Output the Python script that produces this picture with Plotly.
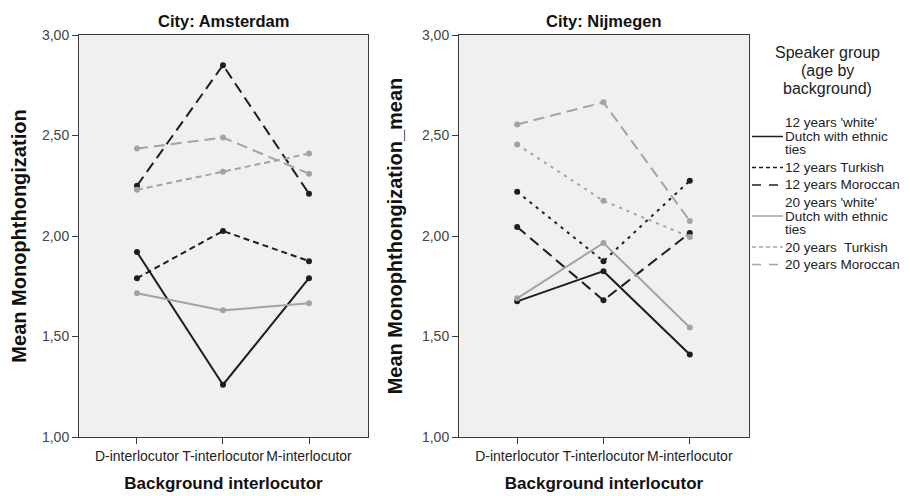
import plotly.graph_objects as go

categories = ["D-interlocutor", "T-interlocutor", "M-interlocutor"]
groups = [
    "12 years 'white'<br>Dutch with ethnic<br>ties",
    "12 years Turkish",
    "12 years Moroccan",
    "20 years 'white'<br>Dutch with ethnic<br>ties",
    "20 years  Turkish",
    "20 years Moroccan",
]
amsterdam = [
    [1.92, 1.26, 1.79],
    [1.79, 2.025, 1.875],
    [2.25, 2.85, 2.21],
    [1.715, 1.63, 1.665],
    [2.23, 2.32, 2.41],
    [2.435, 2.49, 2.31],
]
nijmegen = [
    [1.675, 1.825, 1.41],
    [2.22, 1.875, 2.275],
    [2.045, 1.68, 2.015],
    [1.69, 1.965, 1.545],
    [2.455, 2.175, 1.995],
    [2.555, 2.665, 2.075],
]
y_ticks = [1.0, 1.5, 2.0, 2.5, 3.0]
legend_title = ["Speaker group", "(age by", "background)"]

OFF = 8  # page body margin offset
W, H = 910 - OFF, 496 - OFF


def px(x):
    return (x - OFF) / W


def py(y):
    return 1 - (y - OFF) / H


BLACK = "#1e1e1e"
GREY = "#a3a3a3"
colors = [BLACK, BLACK, BLACK, GREY, GREY, GREY]
dash_left = ["solid", "6px,4px", "11px,6px", "solid", "6px,4px", "11px,6px"]
dash_right = ["solid", "3px,5px", "11px,6px", "solid", "3px,5px", "11px,6px"]
dash_legend = ["solid", "4px,3px", "9px,8px", "solid", "4px,3px", "9px,8px"]

x_idx = list(range(len(categories)))

fig = go.Figure()
for i, g in enumerate(groups):
    fig.add_trace(go.Scatter(
        x=x_idx, y=amsterdam[i], name=g.replace("<br>", " "), mode="lines+markers",
        line=dict(color=colors[i], width=2, dash=dash_left[i]),
        marker=dict(color=colors[i], size=6),
        xaxis="x", yaxis="y", showlegend=False))
for i, g in enumerate(groups):
    fig.add_trace(go.Scatter(
        x=x_idx, y=nijmegen[i], name=g.replace("<br>", " "), mode="lines+markers",
        line=dict(color=colors[i], width=2, dash=dash_right[i]),
        marker=dict(color=colors[i], size=6),
        xaxis="x2", yaxis="y2", showlegend=False))

FONT = "Liberation Sans, Arial, sans-serif"
xcommon = dict(
    tickmode="array", tickvals=x_idx, ticktext=categories, tickangle=0,
    range=[-0.674, 2.686], showgrid=False, zeroline=False, automargin=False,
    showline=True, linecolor="#3a3a3a", linewidth=1, mirror=True,
    ticks="outside", ticklen=6, tickcolor="#3a3a3a",
    tickfont=dict(size=14, color="#222", family=FONT),
    title=dict(text="<b>Background interlocutor</b>", font=dict(size=17, color="#111", family=FONT), standoff=14),
)
ycommon = dict(
    range=[1.0, 3.0], tickmode="array", tickvals=y_ticks, tickformat=".2f",
    showgrid=False, zeroline=False, automargin=False,
    showline=True, linecolor="#3a3a3a", linewidth=1, mirror=True,
    ticks="outside", ticklen=6, tickcolor="#3a3a3a",
    tickfont=dict(size=14, color="#444", family=FONT),
)

annotations = [
    dict(text="<b>City: Amsterdam</b>", x=px((79+368)/2), y=py(21), xref="paper", yref="paper",
         xanchor="center", yanchor="middle",
         showarrow=False, font=dict(size=16.5, color="#111", family=FONT)),
    dict(text="<b>City: Nijmegen</b>", x=px((459+749)/2), y=py(21), xref="paper", yref="paper",
         xanchor="center", yanchor="middle",
         showarrow=False, font=dict(size=16.5, color="#111", family=FONT)),
]
for k, t in enumerate(legend_title):
    annotations.append(dict(text=t, x=px(827), y=py(53+18*k), xref="paper", yref="paper",
                            xanchor="center", yanchor="middle", showarrow=False,
                            font=dict(size=16, color="#222", family=FONT)))

shapes = []
ycur = 123.0
for i, g in enumerate(groups):
    lines = g.split("<br>")
    ys = []
    for ln in lines:
        annotations.append(dict(text=ln, x=px(783), y=py(ycur), xref="paper", yref="paper",
                                xanchor="left", yanchor="middle", showarrow=False,
                                font=dict(size=13.5, color="#222", family=FONT)))
        ys.append(ycur)
        ycur += 13.5
    ymid = ys[len(ys)//2]
    shapes.append(dict(type="line", xref="paper", yref="paper",
                       x0=px(752), x1=px(783), y0=py(ymid), y1=py(ymid),
                       line=dict(color=colors[i], width=1.5, dash=dash_legend[i])))
    ycur += 17.5 - 13.5

fig.update_layout(
    width=W, height=H,
    margin=dict(l=0, r=0, t=0, b=0, autoexpand=False),
    paper_bgcolor="white", plot_bgcolor="#f0f0f0",
    separators=",.",
    showlegend=False,
    font=dict(family=FONT, color="#222"),
    xaxis=dict(domain=[px(79), px(368)], anchor="y", **xcommon),
    xaxis2=dict(domain=[px(459), px(749)], anchor="y2", **xcommon),
    yaxis=dict(domain=[py(437), py(35)], anchor="x",
               title=dict(text="<b>Mean Monophthongization</b>", font=dict(size=20, color="#111", family=FONT), standoff=9),
               **ycommon),
    yaxis2=dict(domain=[py(437), py(35)], anchor="x2",
                title=dict(text="<b>Mean Monophthongization_mean</b>", font=dict(size=20, color="#111", family=FONT), standoff=13),
                **ycommon),
    annotations=annotations,
    shapes=shapes,
)

fig.write_html("out.html")
